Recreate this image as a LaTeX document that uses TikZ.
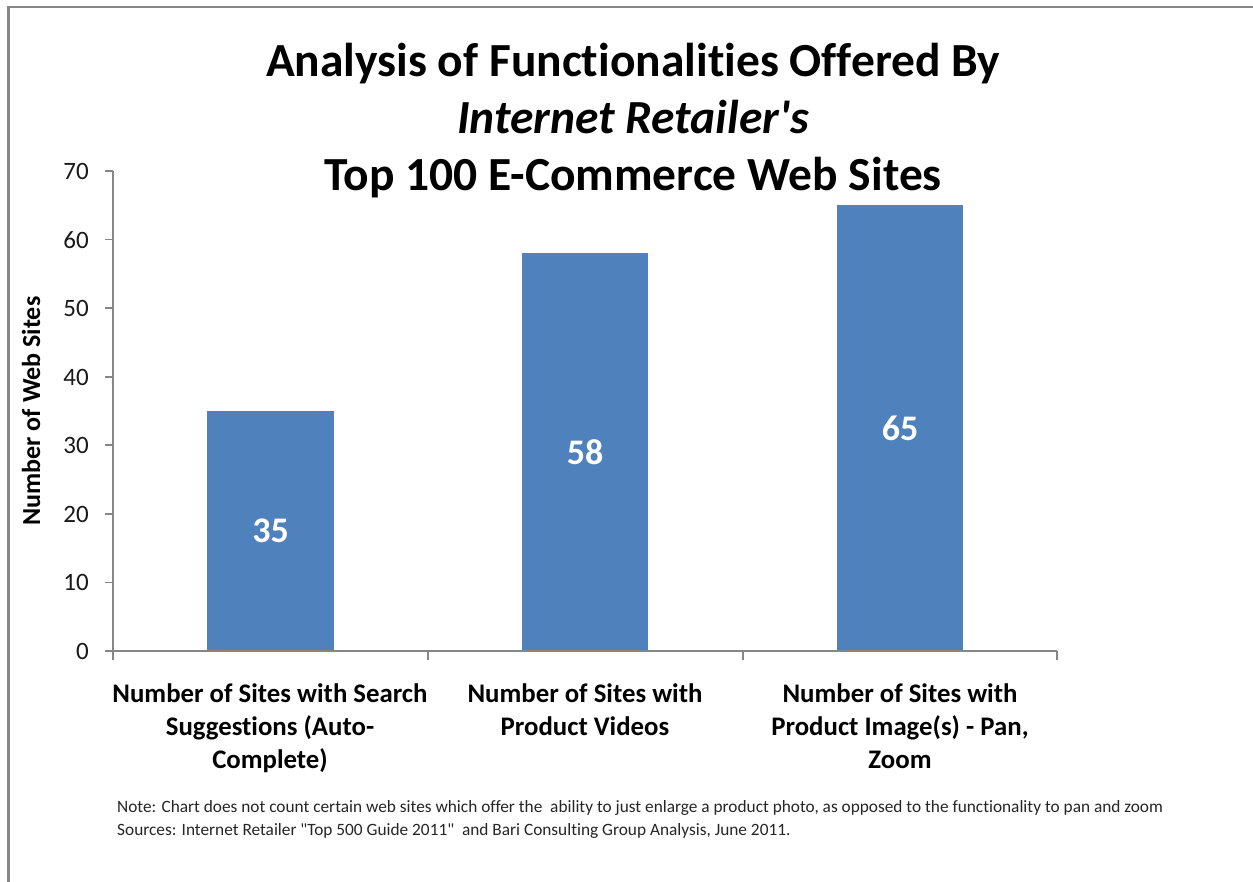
\documentclass[tikz,border=0pt]{standalone}
\usepackage{fontspec}
\setmainfont{Carlito}[Ligatures={NoCommon,TeXOff}]
\definecolor{barblue}{HTML}{4F81BD}
\definecolor{axisgrey}{HTML}{868686}
\definecolor{framegrey}{HTML}{878787}
\begin{document}
\begin{tikzpicture}[x=1pt,y=-1pt,
  titletxt/.style={font=\fontsize{47.5}{56}\selectfont\bfseries,anchor=base,inner sep=0pt},
  ticklbl/.style={font=\fontsize{25}{30}\selectfont,anchor=base east,inner sep=0pt,text=black!90},
  cattxt/.style={font=\fontsize{26.8}{33}\selectfont\bfseries,anchor=base,inner sep=0pt},
  barlbl/.style={font=\fontsize{36}{40}\selectfont\bfseries,text=white,inner sep=0pt},
  notetxt/.style={font=\fontsize{17.3}{23}\selectfont,anchor=base west,inner sep=0pt,text=black!85},
  bar/.style={fill=barblue,draw=none},
  axis/.style={draw=axisgrey,line width=1.6pt}]
\useasboundingbox (0,0) rectangle (1253,882);
\fill[white] (0,0) rectangle (1253,882);
% outer frame (top and left edges visible)
\draw[framegrey,line width=2.5pt] (8.5,900) -- (8.5,7) -- (1260,7);
% bars
\path[bar] (207,651) rectangle (334,411);
\path[bar] (522,651) rectangle (648,253.3);
\path[bar] (837,651) rectangle (963,205.3);
\node[barlbl] (v1) at (270.5,531) {35};
\node[barlbl] (v2) at (585,452) {58};
\node[barlbl] (v3) at (900,428) {65};
% axes
\draw[axis] (113,171) -- (113,651) -- (1057,651);
\foreach \v in {0,10,...,70}{
  \draw[axis] (105,{651-\v*6.857}) -- (113,{651-\v*6.857});
  \node[ticklbl] (t\v) at (89,{651-\v*6.857+8.5}) {\v};
}
\foreach \x in {113,428,743,1057}{
  \draw[axis] (\x,651) -- (\x,660);
}
% y-axis title
\node[font=\fontsize{26}{30}\selectfont\bfseries,rotate=90,inner sep=0pt] (ytitle) at (31,411) {Number of Web Sites};
% title
\node[titletxt] (ti1) at (633,77) {Analysis of Functionalities Offered By};
\node[titletxt] (ti2) at (633,134) {\itshape Internet Retailer's};
\node[titletxt] (ti3) at (633,191) {Top 100 E-Commerce Web Sites};
% category labels
\node[cattxt] (c1a) at (270,702) {Number of Sites with Search};
\node[cattxt] (c1b) at (270,735) {Suggestions (Auto-};
\node[cattxt] (c1c) at (270,768) {Complete)};
\node[cattxt] (c2a) at (585,702) {Number of Sites with};
\node[cattxt] (c2b) at (585,735) {Product Videos};
\node[cattxt] (c3a) at (900,702) {Number of Sites with};
\node[cattxt] (c3b) at (900,735) {Product Image(s) - Pan,};
\node[cattxt] (c3c) at (900,768) {Zoom};
% notes
\node[notetxt] (n1) at (117,812) {Note: Chart does not count certain web sites which offer the\ \ ability to just enlarge a product photo, as opposed to the functionality to pan and zoom};
\node[notetxt] (n2) at (117,835) {Sources: Internet Retailer "Top 500 Guide 2011"\ \ and Bari Consulting Group Analysis, June 2011.};
\end{tikzpicture}
\end{document}
